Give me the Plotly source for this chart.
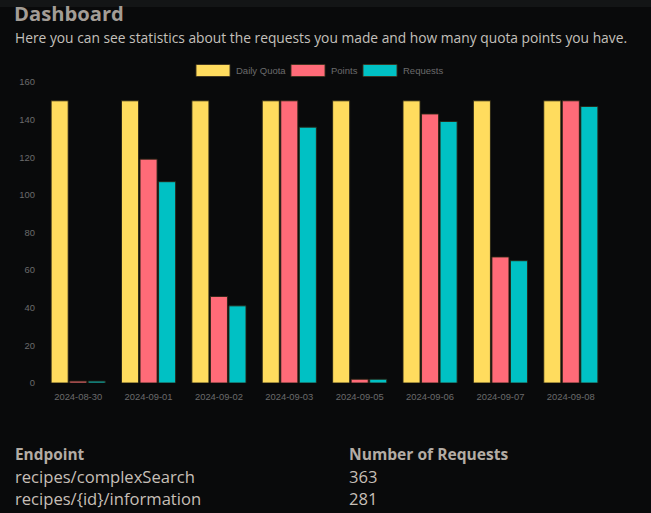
"""Dashboard: daily quota, points and requests per day"""

import plotly.graph_objects as go

# --- data ---------------------------------------------------------------
dates = ['2024-08-30', '2024-09-01', '2024-09-02', '2024-09-03',
         '2024-09-05', '2024-09-06', '2024-09-07', '2024-09-08']
daily_quota = [150, 150, 150, 150, 150, 150, 150, 150]
points = [1, 119, 46, 150, 2, 143, 67, 150]
requests = [1, 107, 41, 136, 2, 139, 65, 147]

y_ticks = [0, 20, 40, 60, 80, 100, 120, 140, 160]

endpoints = ['recipes/complexSearch', 'recipes/{id}/information']
endpoint_counts = [363, 281]

# --- styling --------------------------------------------------------------
W, H = 651, 513
ML, MR, MT, MB = 43, 45, 82, 130
BG = '#090a0b'
TEXT = '#b3aca4'
TICK = '#6b6b6b'
FONT = 'Open Sans, sans-serif'

series = [
    ('Daily Quota', daily_quota, '#ffdc5e'),
    ('Points', points, '#ff6b78'),
    ('Requests', requests, '#00c1c4'),
]


def px_x(x):
    """pixel x -> paper x"""
    return (x - ML) / (W - ML - MR)


def px_y(y):
    """pixel y -> paper y"""
    return (H - MB - y) / (H - MT - MB)


def label(text, x, y, size, color, family=FONT):
    """left-anchored text placed by pixel position"""
    return dict(text=text, xref='paper', yref='paper', x=px_x(x), y=px_y(y),
                xanchor='left', yanchor='middle', showarrow=False,
                font=dict(family=family, size=size, color=color))


fig = go.Figure()
for name, vals, color in series:
    fig.add_trace(go.Bar(
        x=dates, y=vals, name=name,
        marker=dict(color=color, line=dict(color='rgba(40,35,20,0.9)', width=1)),
    ))

# custom legend (wide swatches like the original)
legend_items = [('Daily Quota', 196, 234), ('Points', 291, 329), ('Requests', 363, 401)]
shapes = []
annotations = []
for (name, bx, tx), (_, _, color) in zip(legend_items, series):
    shapes.append(dict(type='rect', xref='paper', yref='paper',
                       x0=px_x(bx), x1=px_x(bx + 34), y0=px_y(76.5), y1=px_y(64.5),
                       fillcolor=color, line=dict(color='rgba(60,50,30,0.9)', width=1)))
    annotations.append(label(name, tx, 70.5, 9.5, TICK, 'Arial'))

# slightly lighter strip at the very top
shapes.append(dict(type='rect', xref='paper', yref='paper', layer='below',
                   x0=px_x(0), x1=px_x(W), y0=px_y(7), y1=px_y(0),
                   fillcolor='#131516', line=dict(width=0)))

annotations.append(label('<b>Dashboard</b>', 12, 13, 20.2, '#a39d96'))
annotations.append(label('Here you can see statistics about the requests you made '
                         'and how many quota points you have.', 13, 38, 13.8, '#c4c0bb'))

# endpoint table
annotations.append(label('<b>Endpoint</b>', 13, 454, 15.4, TEXT))
annotations.append(label('<b>Number of Requests</b>', 347, 454, 15.6, TEXT))
for i, (ep, cnt) in enumerate(zip(endpoints, endpoint_counts)):
    row = 476 + 22 * i
    annotations.append(label(ep, 13, row, 16.6, '#c6bfb7'))
    annotations.append(label(str(cnt), 347, row, 16.6, '#c6bfb7'))

fig.update_layout(
    width=W, height=H,
    margin=dict(l=ML, r=MR, t=MT, b=MB),
    paper_bgcolor=BG, plot_bgcolor=BG,
    barmode='group', bargap=0.21, bargroupgap=0.08,
    showlegend=False,
    shapes=shapes, annotations=annotations,
    xaxis=dict(type='category', showgrid=False, zeroline=False, showline=False,
               ticks='', ticklabelstandoff=7,
               tickfont=dict(family='Arial', size=9.4, color=TICK)),
    yaxis=dict(range=[0, 160], tickvals=y_ticks, showgrid=False, zeroline=False,
               showline=False, ticks='', ticklabelstandoff=7,
               tickfont=dict(family='Arial', size=9.4, color=TICK)),
)

# drop the default page margin so the figure fills the window
fig.write_html('out.html', config={'displayModeBar': False},
               post_script="document.body.style.margin='0';"
                           "document.body.style.background='#090a0b';")
